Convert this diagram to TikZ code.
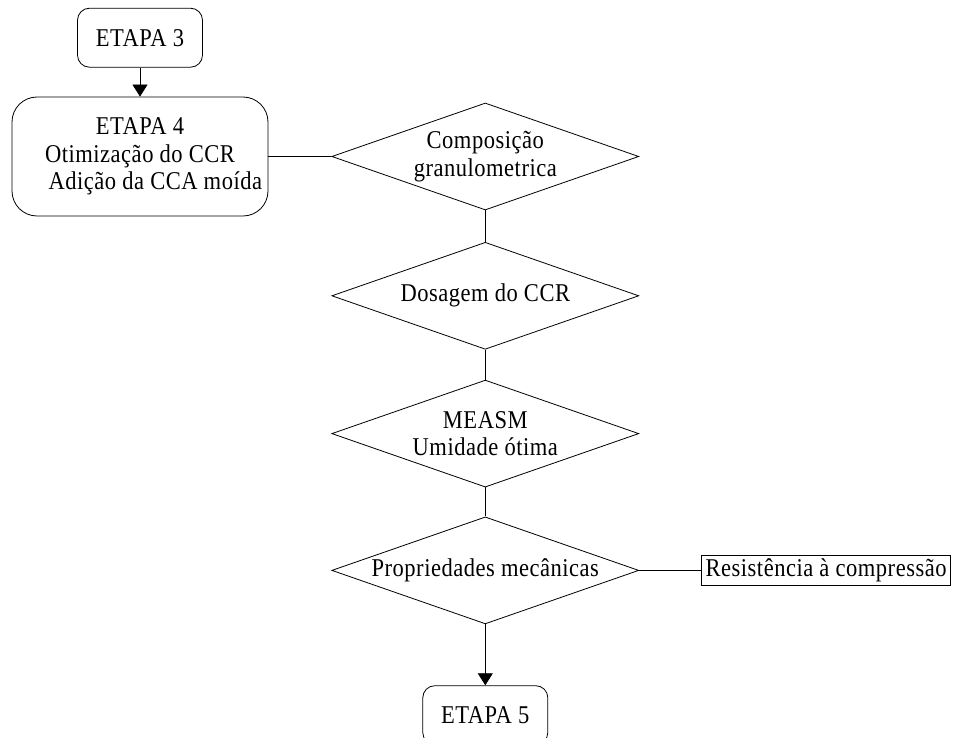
\documentclass[tikz,border=0pt]{standalone}
\usepackage{fontspec}
\setmainfont{Liberation Serif}[FakeStretch=0.88, LetterSpace=2]
\usepackage{tikz}
\usetikzlibrary{shapes.geometric, positioning, arrows.meta}
\tikzset{
line width=0.6pt, % thin lines like the original chart
>={Triangle[width=7.5pt,length=6pt]}, % filled arrow heads
every node/.style={font=\fontsize{12.8}{13.8}\selectfont}, % text size of every box
etapa/.style={draw, rounded corners=6pt, minimum width=62.5pt, minimum height=29.5pt, inner sep=0pt}, % small stage boxes
bigetapa/.style={draw, rounded corners=12.5pt, minimum width=128pt, minimum height=59.5pt, align=center, inner sep=0pt}, % stage 4 box
decisao/.style={draw, diamond, shape aspect=2.9, minimum width=153.5pt, minimum height=53.5pt, inner sep=0pt, align=center}, % diamonds
resultado/.style={draw, minimum width=124.5pt, minimum height=15pt, inner sep=0pt}, % plain box on the right
}

\begin{document}
\begin{tikzpicture}[x=0.5pt, y=-0.5pt]
            \useasboundingbox (0,0) rectangle (955,738);

            \node[bigetapa] (e4) at (140,156.5) {ETAPA 4\\Otimização do CCR\\\hspace*{1.2em}Adição da CCA moída};
            \node[etapa, above=14.5pt of e4] (e3) {ETAPA 3};

            \node[decisao, right=31.5pt of e4] (comp) {Composição\\granulometrica};
            \node[decisao, below=15.75pt of comp] (dos) {Dosagem do CCR};
            \node[decisao, below=15pt of dos] (measm) {MEASM\\Umidade ótima};
            \node[decisao, below=14.5pt of measm] (prop) {Propriedades mecânicas};
            \node[resultado, right=31pt of prop] (res) {Resistência à compressão};

            \node[etapa, below=30.5pt of prop] (e5) {ETAPA 5};

            \draw[->] (e3) -- (e4);
            \draw   (e4) -- (comp);
            \draw   (comp) -- (dos);
            \draw   (dos) -- (measm);
            \draw   (measm) -- (prop);
            \draw   (prop) -- (res);
            \draw[->] (prop) -- (e5);
        \end{tikzpicture}
\end{document}
